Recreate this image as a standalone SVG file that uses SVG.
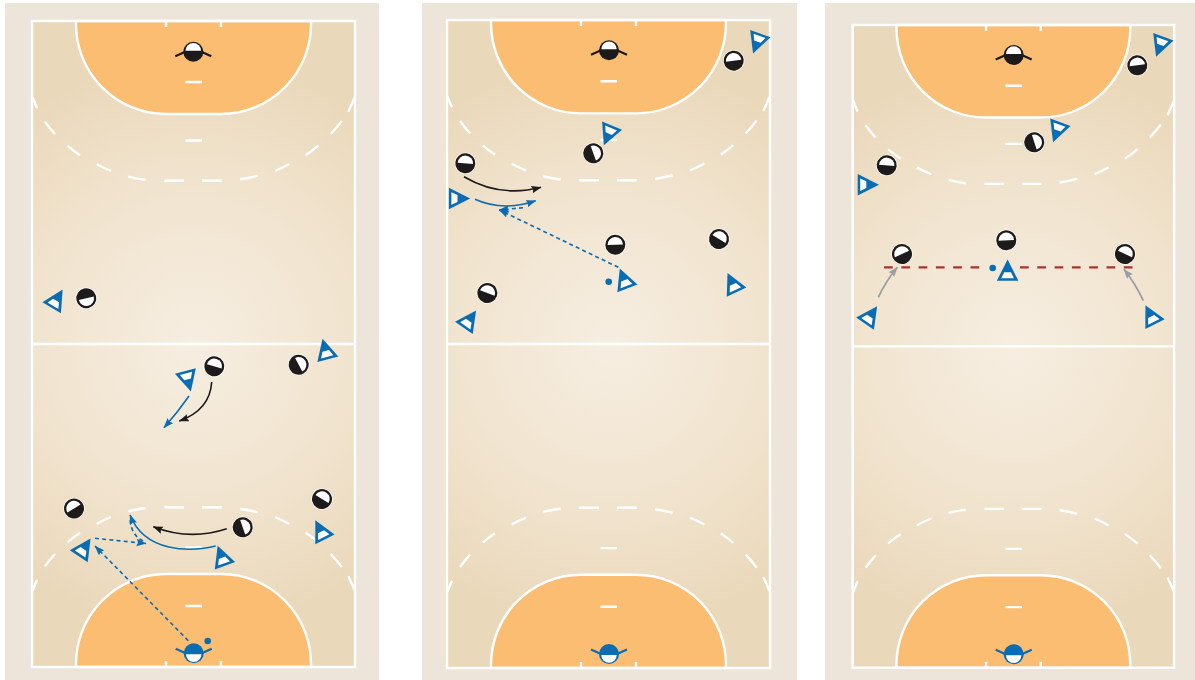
<svg xmlns="http://www.w3.org/2000/svg" xmlns:xlink="http://www.w3.org/1999/xlink" width="1195" height="680" viewBox="0 0 1195 680">
<style>
.panel{fill:#ede5d9}
.line{fill:none;stroke:#fff;stroke-width:2.400}
.goal{fill:#fabd72;stroke:#fff;stroke-width:2.400}
.b{fill:#1d1a1b}
.bl{fill:#0a6db3}
.w{fill:#fff}
.c{fill:none;stroke-width:1.600}
.cb{stroke:#1d1a1b;marker-end:url(#ab)}
.cs{stroke:#0a6db3;marker-end:url(#as)}
.cd{stroke:#0a6db3;stroke-dasharray:4 3.200;marker-end:url(#as)}
.cn{stroke:#0a6db3;stroke-dasharray:4 3.200}
.cg{stroke:#9a9ea3;stroke-width:1.800;marker-end:url(#ag)}
.cr{stroke:#b1302c;stroke-width:2.200;stroke-dasharray:8.700 8.600;fill:none}
</style>
<defs>
<radialGradient id="floor" gradientUnits="userSpaceOnUse" cx="193.500" cy="344" r="285">
<stop offset="0" stop-color="#f6eee1"/>
<stop offset=".55" stop-color="#f1e4cf"/>
<stop offset="1" stop-color="#ead8ba"/>
</radialGradient>
<marker id="ab" markerUnits="userSpaceOnUse" markerWidth="12" markerHeight="9" refX="9.500" refY="3.750" orient="auto"><path class="b" d="M0 0L10 3.750L0 7.500L1.500 3.750Z"/></marker>
<marker id="as" markerUnits="userSpaceOnUse" markerWidth="12" markerHeight="9" refX="9.500" refY="3.750" orient="auto"><path class="bl" d="M0 0L10 3.750L0 7.500L1.500 3.750Z"/></marker>
<marker id="ag" markerUnits="userSpaceOnUse" markerWidth="12" markerHeight="9" refX="9.500" refY="3.750" orient="auto"><path fill="#9a9ea3" d="M0 0L10 3.750L0 7.500L1.500 3.750Z"/></marker>
<g id="half">
<path class="goal" d="M76 21V24A90 90 0 0 0 166 114H221A90 90 0 0 0 311 24V21Z"/>
<path class="line" d="M166 21V27M221 21V27M185.500 82H202M185.500 140.500H202"/>
<path class="line" d="M32.500 97A148.500 148.500 0 0 0 37 108M45 121.700A148.500 148.500 0 0 0 55 134M67.700 146A148.500 148.500 0 0 0 80 155.300M96.700 164.300A148.500 148.500 0 0 0 111 171M128.300 176.700A148.500 148.500 0 0 0 145.700 180M164.300 180.700H184M202 180.700H221.700M240 179.300A148.500 148.500 0 0 0 257.700 175.700M275 171A148.500 148.500 0 0 0 289.300 164M305.700 155.300A148.500 148.500 0 0 0 318.300 145.700M330.700 134A148.500 148.500 0 0 0 341.700 121M348.300 111.700A148.500 148.500 0 0 0 354.300 98"/>
</g>
<g id="court">
<rect x="32" y="21" width="323" height="646" fill="url(#floor)"/>
<use href="#half"/>
<use href="#half" transform="matrix(1 0 0 -1 0 688)"/>
<rect class="line" x="32" y="21" width="323" height="646"/>
<path class="line" d="M32 344H355"/>
</g>
<g id="tri">
<path class="bl" d="M0-11.500L10.800 9.800H-10.800Z"/>
<path class="w" d="M-3.400 1.200H3.400L6.300 7.300H-6.300Z"/>
</g>
<g id="def">
<circle r="10.800" fill="#fff" fill-opacity=".7"/>
<circle class="b" r="10"/>
<path class="w" d="M-7.700 0A7.700 7.700 0 0 1 7.700 0Z"/>
</g>
<g id="gkb">
<path d="M-18 4.500L-8 0M18 4.500L8 0" fill="none" stroke="#1d1a1b" stroke-width="2.200"/>
<circle class="b" r="10"/>
<path class="w" d="M-7.700 0A7.700 7.700 0 0 1 7.700 0Z" transform="translate(0 -1)"/>
</g>
<g id="gkw">
<path d="M-18-4.500L-8 0M18-4.500L8 0" fill="none" stroke="#0a6db3" stroke-width="2.200"/>
<circle class="bl" r="10"/>
<path class="w" d="M-7.700 0A7.700 7.700 0 0 0 7.700 0Z" transform="translate(0 1)"/>
</g>
</defs>
<g id="backgrounds">
<rect class="panel" x="5" y="3" width="374" height="677"/>
<rect class="panel" x="422" y="3" width="375" height="677"/>
<rect class="panel" x="825" y="3" width="370" height="677"/>
</g>
<g id="courts">
<use href="#court"/>
<use href="#court" transform="translate(415 -1) scale(1 1.003)"/>
<use href="#court" transform="translate(820.860 4.100) scale(.995)"/>
</g>
<g id="connectors">
<path class="c cs" d="M189 396Q178 412 164 427.700"/>
<path class="c cb" d="M211.700 382Q210 410 179.300 421"/>
<path class="c cb" d="M226.700 528.700Q190 541 153.300 526.700"/>
<path class="c cs" d="M215.700 546C190 552 145 553 130 515"/>
<path class="c cn" d="M143 541Q131 535 130 519"/>
<path class="c cd" d="M95 538.300L146 543.500"/>
<path class="c cd" d="M188.300 640.700L95 546"/>
<path class="c cb" d="M464 176.700Q500 198 541 187.300"/>
<path class="c cs" d="M475 199.300Q503 212 535.700 200.700"/>
<path class="c cd" d="M523 207.700L499.300 210"/>
<path class="c cd" d="M618.300 267.300L499.300 210"/>
<path class="cr" d="M884 267.300H980"/>
<path class="cr" d="M1020 267.300H1133"/>
<path class="c cg" d="M878.300 297.300Q886 281 897.300 267.300"/>
<path class="c cg" d="M1143.300 300.700Q1135 283 1124 269.300"/>
</g>
<g id="ball-1"><circle class="bl" cx="207.700" cy="641" r="3.300"/></g>
<g id="ball-2"><circle class="bl" cx="608.700" cy="281.700" r="3.300"/></g>
<g id="ball-3"><circle class="bl" cx="992.700" cy="268" r="3.300"/></g>
<g id="p1-gk-d" transform="translate(193.300 51.700)"><use href="#gkb"/></g>
<g id="p1-d1" transform="translate(86.300 298.300) rotate(167)"><use href="#def"/></g>
<g id="p1-d2" transform="translate(214.300 366.300) rotate(16)"><use href="#def"/></g>
<g id="p1-d3" transform="translate(298.700 364.700) rotate(62)"><use href="#def"/></g>
<g id="p1-d4" transform="translate(74 508.500) rotate(-32)"><use href="#def"/></g>
<g id="p1-d5" transform="translate(322 499) rotate(32)"><use href="#def"/></g>
<g id="p1-d6" transform="translate(242.700 527.300) rotate(71)"><use href="#def"/></g>
<g id="p1-gk-a" transform="translate(193.700 653.300)"><use href="#gkw"/></g>
<g id="p1-a1" transform="translate(56.700 299.400) rotate(31)"><use href="#tri"/></g>
<g id="p1-a2" transform="translate(325.400 349.800) rotate(-14.400)"><use href="#tri"/></g>
<g id="p1-a3" transform="translate(187.900 380.500) rotate(165)"><use href="#tri"/></g>
<g id="p1-a4" transform="translate(84.200 548) rotate(33.700)"><use href="#tri"/></g>
<g id="p1-a5" transform="translate(221.600 556.600) rotate(-20)"><use href="#tri"/></g>
<g id="p1-a6" transform="translate(320.500 530.600) rotate(-26.800)"><use href="#tri"/></g>
<g id="p2-gk-d" transform="translate(609 50.300)"><use href="#gkb"/></g>
<g id="p2-d1" transform="translate(733.700 60.700) rotate(-7)"><use href="#def"/></g>
<g id="p2-d2" transform="translate(593.300 153.300) rotate(70)"><use href="#def"/></g>
<g id="p2-d3" transform="translate(465.300 163.300) rotate(5)"><use href="#def"/></g>
<g id="p2-d4" transform="translate(615.300 244.700) rotate(-2)"><use href="#def"/></g>
<g id="p2-d5" transform="translate(719 239) rotate(32)"><use href="#def"/></g>
<g id="p2-d6" transform="translate(487.300 293) rotate(20)"><use href="#def"/></g>
<g id="p2-gk-a" transform="translate(609 654)"><use href="#gkw"/></g>
<g id="p2-a1" transform="translate(757 42.800) rotate(-160)"><use href="#tri"/></g>
<g id="p2-a2" transform="translate(608.300 134.700) rotate(-157.400)"><use href="#tri"/></g>
<g id="p2-a3" transform="translate(458.700 198.500) rotate(90)"><use href="#tri"/></g>
<g id="p2-a4" transform="translate(623.900 279.200) rotate(-21)"><use href="#tri"/></g>
<g id="p2-a5" transform="translate(732.400 283.300) rotate(-25)"><use href="#tri"/></g>
<g id="p2-a6" transform="translate(469.500 319.800) rotate(35)"><use href="#tri"/></g>
<g id="p3-gk-d" transform="translate(1013.700 55)"><use href="#gkb"/></g>
<g id="p3-d1" transform="translate(1137.300 65.300) rotate(-7)"><use href="#def"/></g>
<g id="p3-d2" transform="translate(1034.300 142.300) rotate(72)"><use href="#def"/></g>
<g id="p3-d3" transform="translate(886.700 165.300) rotate(5)"><use href="#def"/></g>
<g id="p3-d4" transform="translate(902 254) rotate(-24)"><use href="#def"/></g>
<g id="p3-d5" transform="translate(1006.300 240.300) rotate(-3)"><use href="#def"/></g>
<g id="p3-d6" transform="translate(1125 254) rotate(25)"><use href="#def"/></g>
<g id="p3-gk-a" transform="translate(1013.700 654.300)"><use href="#gkw"/></g>
<g id="p3-a1" transform="translate(1160 46) rotate(-160)"><use href="#tri"/></g>
<g id="p3-a2" transform="translate(1057 131.500) rotate(-160)"><use href="#tri"/></g>
<g id="p3-a3" transform="translate(867.500 184.700) rotate(90)"><use href="#tri"/></g>
<g id="p3-a4" transform="translate(1007.600 271)"><use href="#tri"/></g>
<g id="p3-a5" transform="translate(870.600 315.600) rotate(34.600)"><use href="#tri"/></g>
<g id="p3-a6" transform="translate(1150.600 315.400) rotate(-26.700)"><use href="#tri"/></g>
</svg>
